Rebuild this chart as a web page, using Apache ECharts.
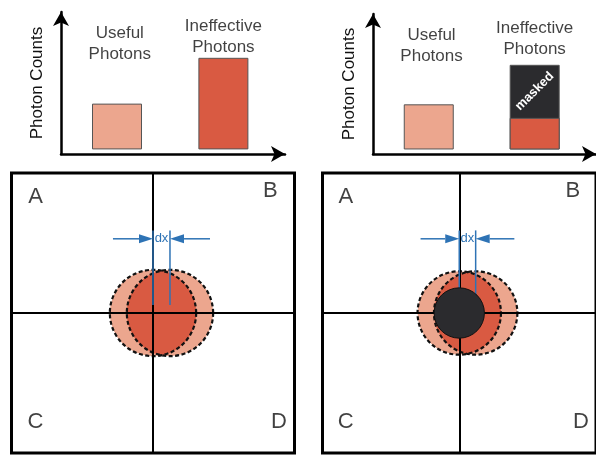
<!DOCTYPE html>
<html>
<head>
<meta charset="utf-8">
<script src="https://cdn.jsdelivr.net/npm/echarts@6/dist/echarts.min.js"></script>
<style>
html, body { margin: 0; padding: 0; background: #fff; }
#chart { width: 596px; height: 455px; }
</style>
</head>
<body>
<div id="chart"></div>
<script>
// top bar charts
var categories = ['Useful\nPhotons', 'Ineffective\nPhotons'];
var barX = [1, 2.9];
var labelX = [1.05, 2.9];
var labelY = [46, 49];
var countsPlain = [20, 40];
var countsKept = [20, 14];
var countsMasked = [0, 23.5];

// bottom detector panels
var quadNames = ['A', 'B', 'C', 'D'];
var quadX = [-8.3, 8.3, -8.3, 8.9];
var quadY = [8.3, 8.7, -7.8, -7.8];
var spotPair = [[0, 1.2, 0, 3.05]];      // x1, x2, y, radius
var maskDisc = [[0, 0, 1.84]];           // x, y, radius
var dxMark = [[0, 1.2, 5.3, 5.9, 0.57, 2.83]]; // x1, x2, arrowY, top, bottom, arm

var light = '#ECA68E', red = '#D95A42', dark = '#2B2B2E', blue = '#2E73B5';
var font = 'Liberation Sans';
var ink = '#111';

var chart = echarts.init(document.getElementById('chart'));

function barData(vals, colors) {
    var out = [];
    for (var i = 0; i < vals.length; i++) {
        if (vals[i] === '-') continue;
        out.push({ value: [barX[i], vals[i]], itemStyle: { color: colors[i] } });
    }
    return out;
}

// masked part sits on top of the kept part: draw the full column behind it
var countsTotal = [];
for (var k = 0; k < countsKept.length; k++) {
    countsTotal.push(countsMasked[k] ? countsKept[k] + countsMasked[k] : '-');
}
var maskedCenter = 100 * countsMasked[1] / 2 / countsTotal[1];

function labelData() {
    var out = [];
    for (var i = 0; i < categories.length; i++) {
        out.push({ name: categories[i], value: [labelX[i], labelY[i]] });
    }
    return out;
}

function quadData() {
    var out = [];
    for (var i = 0; i < quadNames.length; i++) {
        out.push({ name: quadNames[i], value: [quadX[i], quadY[i]] });
    }
    return out;
}

function renderPair(params, api) {
    var x1 = api.value(0), x2 = api.value(1), y = api.value(2), r = api.value(3);
    var p1 = api.coord([x1, y]), p2 = api.coord([x2, y]);
    var R = api.size([r, 0])[0];
    var a = Math.acos((p2[0] - p1[0]) / 2 / R);
    var pts = [], n = 40, i, t;
    for (i = 0; i <= n; i++) {
        t = -a + 2 * a * i / n;
        pts.push([p1[0] + R * Math.cos(t), p1[1] + R * Math.sin(t)]);
    }
    for (i = 0; i <= n; i++) {
        t = Math.PI - a + 2 * a * i / n;
        pts.push([p2[0] + R * Math.cos(t), p2[1] + R * Math.sin(t)]);
    }
    var dash = { fill: 'none', stroke: '#111', lineWidth: 2.2, lineDash: [4, 2.5] };
    return {
        type: 'group',
        children: [
            { type: 'circle', shape: { cx: p1[0], cy: p1[1], r: R }, style: { fill: light } },
            { type: 'circle', shape: { cx: p2[0], cy: p2[1], r: R }, style: { fill: light } },
            { type: 'polygon', shape: { points: pts }, style: { fill: red } },
            { type: 'circle', shape: { cx: p1[0], cy: p1[1], r: R }, style: dash },
            { type: 'circle', shape: { cx: p2[0], cy: p2[1], r: R }, style: dash }
        ]
    };
}

function renderDisc(params, api) {
    var p = api.coord([api.value(0), api.value(1)]);
    var R = api.size([api.value(2), 0])[0];
    return { type: 'circle', shape: { cx: p[0], cy: p[1], r: R },
             style: { fill: dark, stroke: '#111', lineWidth: 1 } };
}

function renderDx(params, api) {
    var xa = api.value(0), xb = api.value(1), ya = api.value(2);
    var yt = api.value(3), yb = api.value(4), arm = api.value(5);
    var a1 = api.coord([xa, yt]), a2 = api.coord([xa, yb]);
    var b1 = api.coord([xb, yt]), b2 = api.coord([xb, yb]);
    var lTail = api.coord([xa - arm, ya]), lTip = api.coord([xa, ya]);
    var rTail = api.coord([xb + arm, ya]), rTip = api.coord([xb, ya]);
    var mid = api.coord([(xa + xb) / 2, ya]);
    var hl = 14, hw = 4.5;
    var ls = { stroke: blue, lineWidth: 1.5 };
    return {
        type: 'group',
        children: [
            { type: 'line', shape: { x1: a1[0], y1: a1[1], x2: a2[0], y2: a2[1] }, style: ls },
            { type: 'line', shape: { x1: b1[0], y1: b1[1], x2: b2[0], y2: b2[1] }, style: ls },
            { type: 'line', shape: { x1: lTail[0], y1: lTail[1], x2: lTip[0] - hl, y2: lTip[1] }, style: ls },
            { type: 'polygon', shape: { points: [[lTip[0], lTip[1]], [lTip[0] - hl, lTip[1] - hw], [lTip[0] - hl, lTip[1] + hw]] },
              style: { fill: blue } },
            { type: 'line', shape: { x1: rTail[0], y1: rTail[1], x2: rTip[0] + hl, y2: rTip[1] }, style: ls },
            { type: 'polygon', shape: { points: [[rTip[0], rTip[1]], [rTip[0] + hl, rTip[1] - hw], [rTip[0] + hl, rTip[1] + hw]] },
              style: { fill: blue } },
            { type: 'text', x: mid[0], y: mid[1],
              style: { text: 'dx', fill: blue, fontSize: 13, fontFamily: font, align: 'center', verticalAlign: 'middle' } }
        ]
    };
}

function barAxis(idx, isY) {
    var ax = {
        type: 'value',
        gridIndex: idx,
        axisLine: { show: true, onZero: false, symbol: ['none', 'arrow'], symbolSize: [12, 14],
                    lineStyle: { color: '#000', width: 2.5 } },
        axisTick: { show: false },
        axisLabel: { show: false },
        splitLine: { show: false }
    };
    if (isY) {
        ax.min = -2; ax.max = 60;
        ax.name = 'Photon Counts';
        ax.nameLocation = 'middle';
        ax.nameGap = 15;
        ax.nameTextStyle = { fontSize: 17, color: ink, fontFamily: font };
    } else {
        ax.min = 0; ax.max = 4;
    }
    return ax;
}

function panelAxis(idx) {
    return {
        type: 'value',
        gridIndex: idx,
        min: -10, max: 10,
        z: 3,
        axisLine: { show: true, onZero: true, lineStyle: { color: '#000', width: 2 } },
        axisTick: { show: false },
        axisLabel: { show: false },
        splitLine: { show: false }
    };
}

function labelSeries(idx) {
    return {
        type: 'scatter', xAxisIndex: idx, yAxisIndex: idx,
        symbolSize: 1, itemStyle: { color: 'rgba(0,0,0,0)' }, silent: true,
        label: { show: true, position: 'inside', formatter: '{b}', fontSize: 17, lineHeight: 21,
                 color: ink, fontFamily: font },
        data: labelData()
    };
}

function quadSeries(idx) {
    return {
        type: 'scatter', xAxisIndex: idx, yAxisIndex: idx,
        symbolSize: 1, itemStyle: { color: 'rgba(0,0,0,0)' }, silent: true,
        label: { show: true, position: 'inside', formatter: '{b}', fontSize: 22,
                 color: ink, fontFamily: font },
        data: quadData()
    };
}

var option = {
    animation: false,
    backgroundColor: '#fff',
    textStyle: { fontFamily: font },
    grid: [
        { left: 61, top: 12, width: 224, height: 142 },
        { left: 373, top: 14, width: 224, height: 140 },
        { left: 11.5, top: 173, width: 283, height: 280, show: true, borderColor: '#000', borderWidth: 3 },
        { left: 322.5, top: 173, width: 283, height: 280, show: true, borderColor: '#000', borderWidth: 3 }
    ],
    xAxis: [barAxis(0, false), barAxis(1, false), panelAxis(2), panelAxis(3)],
    yAxis: [barAxis(0, true), barAxis(1, true), panelAxis(2), panelAxis(3)],
    series: [
        {
            type: 'bar', xAxisIndex: 0, yAxisIndex: 0, barWidth: 50,
            itemStyle: { borderColor: '#555', borderWidth: 1 },
            data: barData(countsPlain, [light, red])
        },
        labelSeries(0),
        {
            type: 'bar', xAxisIndex: 1, yAxisIndex: 1, barWidth: 50, barGap: '-100%',
            itemStyle: { color: dark, borderColor: '#555', borderWidth: 1 },
            label: { show: true, position: ['50%', maskedCenter + '%'], align: 'center', verticalAlign: 'middle',
                     rotate: 45, formatter: 'masked',
                     color: '#fff', fontWeight: 'bold', fontSize: 13, fontFamily: font },
            data: barData(countsTotal, [dark, dark])
        },
        {
            type: 'bar', xAxisIndex: 1, yAxisIndex: 1, barWidth: 50, barGap: '-100%',
            itemStyle: { borderColor: '#555', borderWidth: 1 },
            data: barData(countsKept, [light, red])
        },
        labelSeries(1),
        { type: 'custom', xAxisIndex: 2, yAxisIndex: 2, z: 2, renderItem: renderPair,
          encode: { x: [0, 1], y: [2] }, data: spotPair },
        { type: 'custom', xAxisIndex: 2, yAxisIndex: 2, z: 4, renderItem: renderDx,
          encode: { x: [0, 1], y: [2] }, data: dxMark },
        quadSeries(2),
        { type: 'custom', xAxisIndex: 3, yAxisIndex: 3, z: 2, renderItem: renderPair,
          encode: { x: [0, 1], y: [2] }, data: spotPair },
        { type: 'custom', xAxisIndex: 3, yAxisIndex: 3, z: 4, renderItem: renderDx,
          encode: { x: [0, 1], y: [2] }, data: dxMark },
        { type: 'custom', xAxisIndex: 3, yAxisIndex: 3, z: 5, renderItem: renderDisc,
          data: maskDisc },
        quadSeries(3)
    ]
};

chart.setOption(option);
</script>
</body>
</html>
